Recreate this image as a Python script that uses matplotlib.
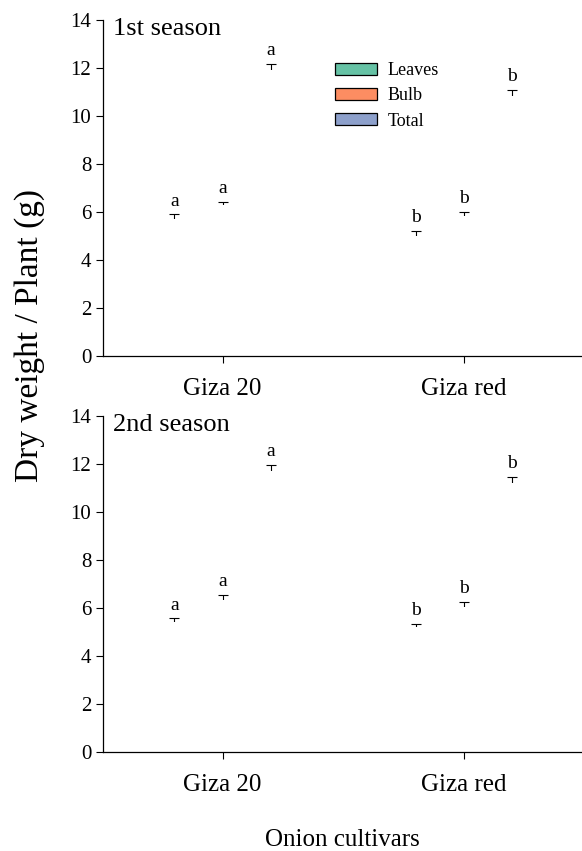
import matplotlib
matplotlib.use("Agg")
import matplotlib.pyplot as plt
from matplotlib.patches import Patch
import numpy as np

plt.rcParams['font.family'] = ['Liberation Serif', 'DejaVu Serif']

cultivars = ["Giza 20", "Giza red"]
components = ["Leaves", "Bulb", "Total"]
colors = ["#66c2a5", "#fc8d62", "#8da0cb"]

# season 1
s1_values = {"Leaves": [5.7, 5.0], "Bulb": [6.3, 5.85], "Total": [11.9, 10.85]}
s1_errors = {"Leaves": [0.2, 0.2], "Bulb": [0.12, 0.15], "Total": [0.28, 0.25]}
s1_letters = {"Leaves": ["a", "b"], "Bulb": ["a", "b"], "Total": ["a", "b"]}
# season 2
s2_values = {"Leaves": [5.42, 5.2], "Bulb": [6.33, 6.04], "Total": [11.7, 11.2]}
s2_errors = {"Leaves": [0.15, 0.15], "Bulb": [0.2, 0.2], "Total": [0.27, 0.26]}
s2_letters = {"Leaves": ["a", "b"], "Bulb": ["a", "b"], "Total": ["a", "b"]}

yticks = [0, 2, 4, 6, 8, 10, 12, 14]

fig = plt.figure(figsize=(5.82, 8.51), dpi=100)
W, H = 582, 851
def axrect(l, t, r, b):
    return [l / W, 1 - b / H, (r - l) / W, (b - t) / H]

ax1 = fig.add_axes(axrect(103, 20, 582, 356))
ax2 = fig.add_axes(axrect(103, 416, 582, 752))

x = np.arange(len(cultivars))
width = 0.2
offsets = [-width, 0, width]

def draw(ax, vals, errs, lets, title):
    for comp, off, col in zip(components, offsets, colors):
        v = np.array(vals[comp]); e = np.array(errs[comp])
        ax.errorbar(x + off, v, yerr=e, fmt='none', zorder=1,
                    ecolor='black', elinewidth=0.8, capsize=3.5, capthick=0.8)
        # bars are drawn in white, hiding the lower half of each error bar
        ax.bar(x + off, v, width, facecolor='white', edgecolor='none',
               linewidth=0, zorder=2)
        for xi, vi, ei, li in zip(x + off, v, e, lets[comp]):
            ax.text(xi, vi + ei + 0.2, li, ha='center', va='bottom', fontsize=14)
    ax.set_ylim(0, 14)
    ax.set_xlim(-0.496, 1.49)
    ax.set_yticks(yticks)
    ax.set_xticks(x)
    ax.set_xticklabels(cultivars, fontsize=18)
    ax.tick_params(axis='y', labelsize=15, direction='out', length=5, width=0.8)
    ax.tick_params(axis='x', direction='out', length=5, width=0.8, pad=11)
    for s in ['top', 'right']:
        ax.spines[s].set_visible(False)
    for s in ['left', 'bottom']:
        ax.spines[s].set_linewidth(0.9)
        ax.spines[s].set_zorder(3)
    ax.text(0.02, 1.005, title, transform=ax.transAxes, ha='left', va='top', fontsize=19)

draw(ax1, s1_values, s1_errors, s1_letters, "1st season")
draw(ax2, s2_values, s2_errors, s2_letters, "2nd season")

handles = [Patch(facecolor=c, edgecolor='black', linewidth=0.9, label=l)
           for c, l in zip(colors, components)]
ax1.legend(handles=handles, loc='upper left', bbox_to_anchor=(319 / W, 1 - 46 / H),
           bbox_transform=fig.transFigure, frameon=False, fontsize=13,
           handlelength=2.3, handleheight=0.6, labelspacing=0.45, handletextpad=0.6)

fig.text(30 / W, 1 - 335 / H, "Dry weight / Plant (g)", rotation=90, ha='center',
         va='center', fontsize=24)
fig.text(342 / W, 1 - 840 / H, "Onion cultivars", ha='center', va='center', fontsize=18)

fig.savefig("out.png", dpi=100)
